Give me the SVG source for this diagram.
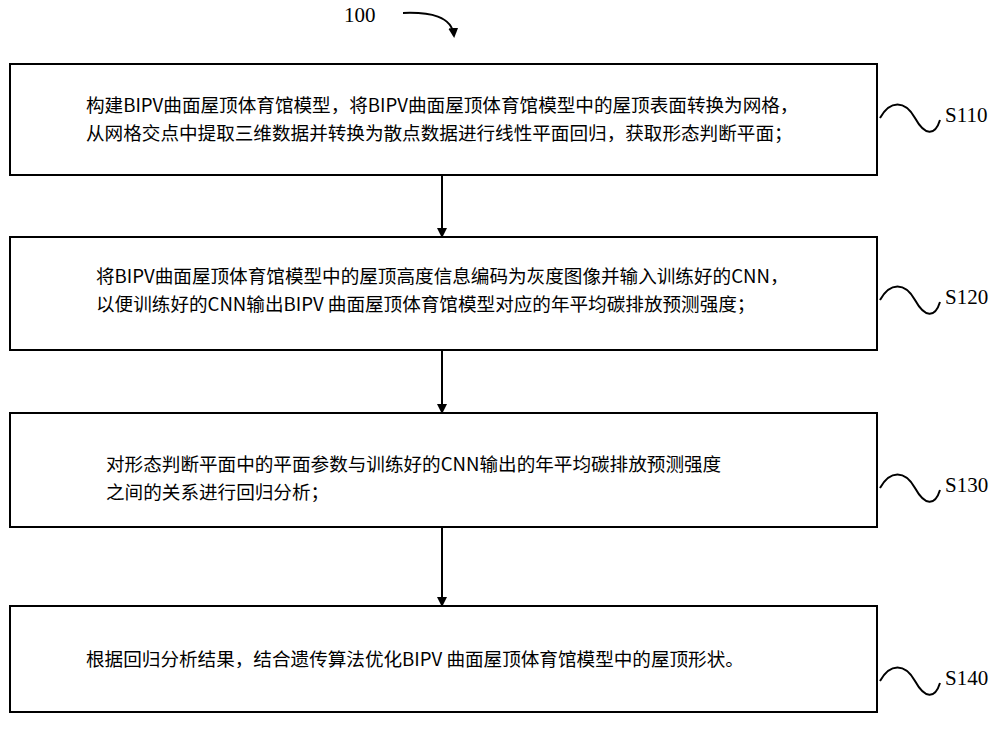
<svg xmlns="http://www.w3.org/2000/svg" width="1000" height="745" viewBox="0 0 1000 745">
<style>
.b{fill:#fff;stroke:#000;stroke-width:2}
.t{font-family:"Noto Sans CJK SC",sans-serif;font-size:18.6px;fill:#000}
.l{font-family:"Liberation Serif",serif;font-size:21px;fill:#000}
.c{fill:none;stroke:#000;stroke-width:2}
</style>
<defs><marker id="a" markerWidth="10" markerHeight="10" refX="8" refY="5" orient="auto" markerUnits="userSpaceOnUse"><path d="M0,0L10,5L0,10z"/></marker></defs>
<rect width="1000" height="745" fill="#fff"/>
<text class="l" x="344" y="22">100</text>
<path class="c" d="M403,13 C430,12 452,16 454,36" stroke-width="1.3" marker-end="url(#a)"/>
<g id="n1"><rect class="b" x="10" y="64" width="867" height="111"/>
<text class="t" x="86" y="112">构建BIPV曲面屋顶体育馆模型，将BIPV曲面屋顶体育馆模型中的屋顶表面转换为网格，</text>
<text class="t" x="86" y="140">从网格交点中提取三维数据并转换为散点数据进行线性平面回归，获取形态判断平面；</text>
<path class="c" d="M880,118 C890,100 905,100 915,118 C925,136 935,136 940,120"/><text class="l" x="945" y="122">S110</text></g>
<g id="n2"><rect class="b" x="10" y="237" width="867" height="113"/>
<text class="t" x="96" y="283">将BIPV曲面屋顶体育馆模型中的屋顶高度信息编码为灰度图像并输入训练好的CNN，</text>
<text class="t" x="96" y="311">以便训练好的CNN输出BIPV 曲面屋顶体育馆模型对应的年平均碳排放预测强度；</text>
<path class="c" d="M880,300 C890,282 905,282 915,300 C925,318 935,318 940,302"/><text class="l" x="945" y="304">S120</text></g>
<g id="n3"><rect class="b" x="10" y="413" width="867" height="114"/>
<text class="t" x="106" y="471">对形态判断平面中的平面参数与训练好的CNN输出的年平均碳排放预测强度</text>
<text class="t" x="106" y="499">之间的关系进行回归分析；</text>
<path class="c" d="M880,488 C890,470 905,470 915,488 C925,506 935,506 940,490"/><text class="l" x="945" y="492">S130</text></g>
<g id="n4"><rect class="b" x="10" y="606" width="867" height="106"/>
<text class="t" x="86" y="666">根据回归分析结果，结合遗传算法优化BIPV 曲面屋顶体育馆模型中的屋顶形状。</text>
<path class="c" d="M880,681 C890,663 905,663 915,681 C925,699 935,699 940,683"/><text class="l" x="945" y="685">S140</text></g>
<g id="edges">
<path class="c" d="M442,175 V236" stroke-width="1.5" marker-end="url(#a)"/>
<path class="c" d="M442,350 V412" stroke-width="1.5" marker-end="url(#a)"/>
<path class="c" d="M442,527 V605" stroke-width="1.5" marker-end="url(#a)"/>
</g>
</svg>
